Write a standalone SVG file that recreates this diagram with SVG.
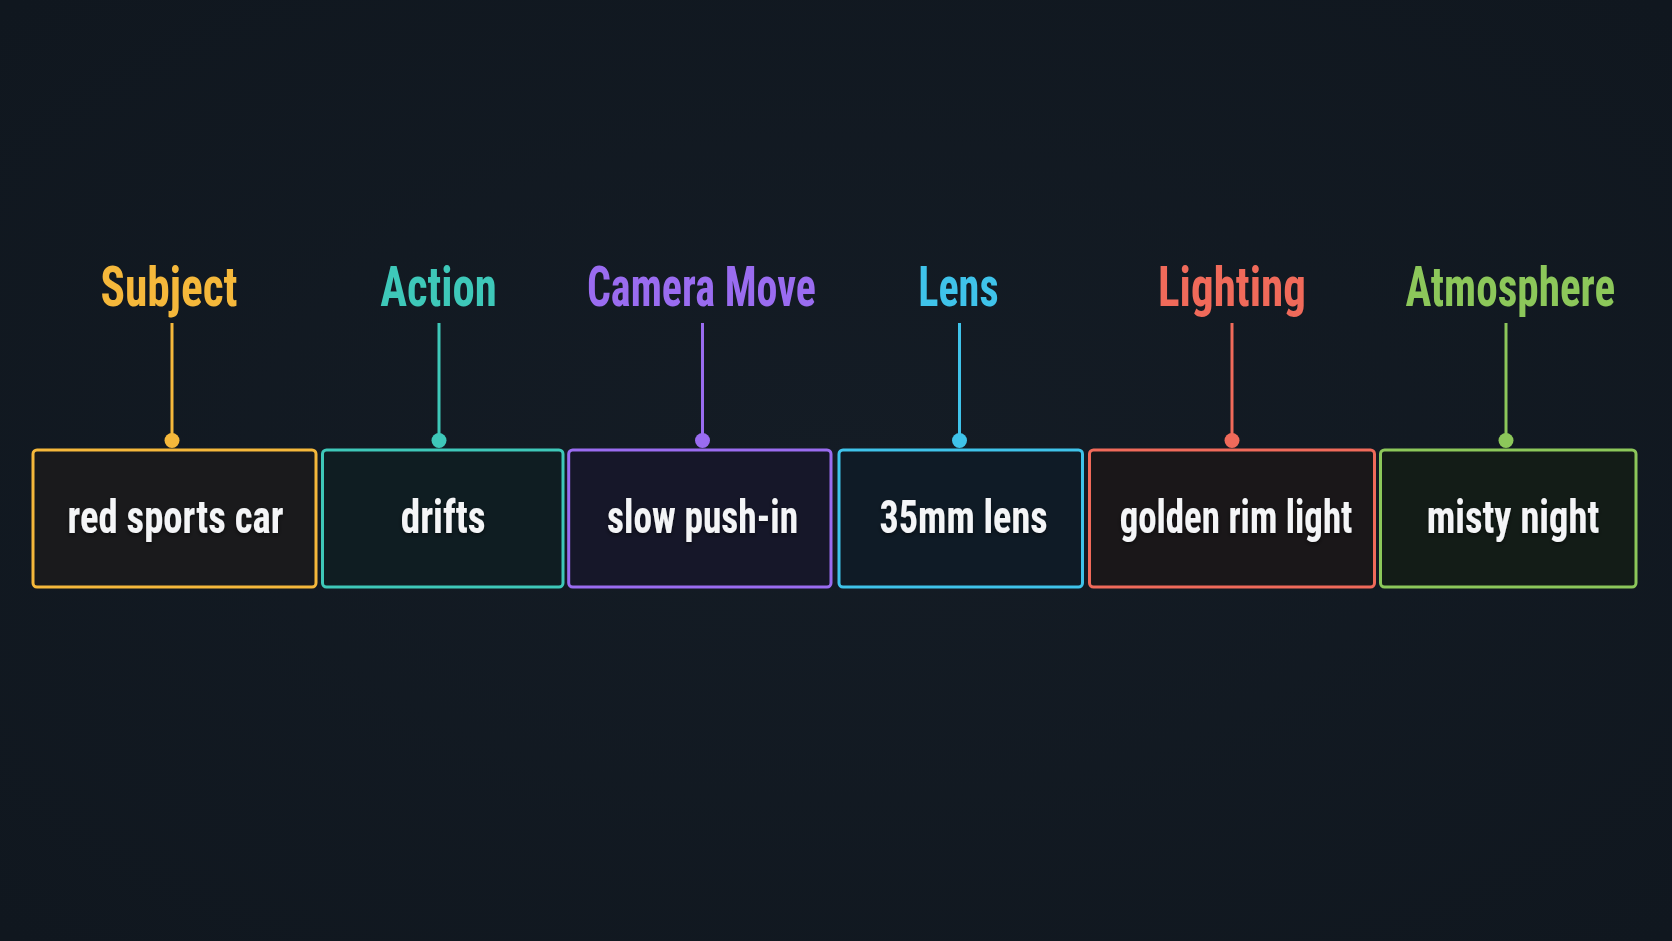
<svg xmlns="http://www.w3.org/2000/svg" width="1672" height="941" viewBox="0 0 1672 941">
  <defs>
    <radialGradient id="bg" cx="50%" cy="50%" r="70%">
      <stop offset="0" stop-color="#141c25"/>
      <stop offset="1" stop-color="#10171f"/>
    </radialGradient>
    <filter id="shadow" x="-10%" y="-30%" width="120%" height="160%">
      <feDropShadow dx="0" dy="2" stdDeviation="2" flood-color="#000" flood-opacity="0.5"/>
    </filter>
  </defs>
  <style>
    .label { font-family: 'Liberation Sans Narrow', 'Roboto Condensed', 'DejaVu Sans Condensed', 'Liberation Sans', sans-serif; font-weight: 700; font-size: 55px; text-anchor: middle; }
    .value { font-family: 'Liberation Sans Narrow', 'Roboto Condensed', 'DejaVu Sans Condensed', 'Liberation Sans', sans-serif; font-weight: 700; font-size: 46px; fill: #f4f5f7; text-anchor: middle; }
    .box { stroke-width: 3; }
    .conn line { stroke-width: 3; }
  </style>
  <rect width="1672" height="941" fill="url(#bg)"/>

  <g id="connectors" class="conn">
    <line x1="172" y1="323" x2="172" y2="440" stroke="#f5b83b"/>
    <circle cx="172" cy="440.5" r="7.5" fill="#f5b83b"/>
    <line x1="439" y1="323" x2="439" y2="440" stroke="#3ec8b9"/>
    <circle cx="439" cy="440.5" r="7.5" fill="#3ec8b9"/>
    <line x1="702.5" y1="323" x2="702.5" y2="440" stroke="#9a6cf0"/>
    <circle cx="702.5" cy="440.5" r="7.5" fill="#9a6cf0"/>
    <line x1="959.5" y1="323" x2="959.5" y2="440" stroke="#3fc3ea"/>
    <circle cx="959.5" cy="440.5" r="7.5" fill="#3fc3ea"/>
    <line x1="1232" y1="323" x2="1232" y2="440" stroke="#f06a5a"/>
    <circle cx="1232" cy="440.5" r="7.5" fill="#f06a5a"/>
    <line x1="1506" y1="323" x2="1506" y2="440" stroke="#8cc75a"/>
    <circle cx="1506" cy="440.5" r="7.5" fill="#8cc75a"/>
  </g>

  <g id="subject">
    <text class="label" x="169" y="306" fill="#f5b83b" textLength="137" lengthAdjust="spacingAndGlyphs">Subject</text>
    <rect class="box" x="33" y="450" width="283" height="137" rx="4" fill="#1a1a1c" stroke="#f5b83b"/>
    <text class="value" x="175.5" y="533" textLength="216" lengthAdjust="spacingAndGlyphs" filter="url(#shadow)">red sports car</text>
  </g>

  <g id="action">
    <text class="label" x="438.6" y="306" fill="#3ec8b9" textLength="116.6" lengthAdjust="spacingAndGlyphs">Action</text>
    <rect class="box" x="322.5" y="450" width="240.5" height="137" rx="4" fill="#0f1d22" stroke="#3ec8b9"/>
    <text class="value" x="443.2" y="533" textLength="85" lengthAdjust="spacingAndGlyphs" filter="url(#shadow)">drifts</text>
  </g>

  <g id="camera-move">
    <text class="label" x="701.4" y="306" fill="#9a6cf0" textLength="229" lengthAdjust="spacingAndGlyphs">Camera Move</text>
    <rect class="box" x="568.7" y="450" width="262.3" height="137" rx="4" fill="#161729" stroke="#9a6cf0"/>
    <text class="value" x="702.6" y="533" textLength="191" lengthAdjust="spacingAndGlyphs" filter="url(#shadow)">slow push-in</text>
  </g>

  <g id="lens">
    <text class="label" x="958.4" y="306" fill="#3fc3ea" textLength="80.4" lengthAdjust="spacingAndGlyphs">Lens</text>
    <rect class="box" x="839" y="450" width="243.5" height="137" rx="4" fill="#0f1b26" stroke="#3fc3ea"/>
    <text class="value" x="963.5" y="533" textLength="168" lengthAdjust="spacingAndGlyphs" filter="url(#shadow)">35mm lens</text>
  </g>

  <g id="lighting">
    <text class="label" x="1232" y="306" fill="#f06a5a" textLength="148" lengthAdjust="spacingAndGlyphs">Lighting</text>
    <rect class="box" x="1089.5" y="450" width="285" height="137" rx="4" fill="#1a1719" stroke="#f06a5a"/>
    <text class="value" x="1236" y="533" textLength="232.7" lengthAdjust="spacingAndGlyphs" filter="url(#shadow)">golden rim light</text>
  </g>

  <g id="atmosphere">
    <text class="label" x="1510.3" y="306" fill="#8cc75a" textLength="209.7" lengthAdjust="spacingAndGlyphs">Atmosphere</text>
    <rect class="box" x="1380.5" y="450" width="255.5" height="137" rx="4" fill="#131c17" stroke="#8cc75a"/>
    <text class="value" x="1513" y="533" textLength="172.6" lengthAdjust="spacingAndGlyphs" filter="url(#shadow)">misty night</text>
  </g>
</svg>
